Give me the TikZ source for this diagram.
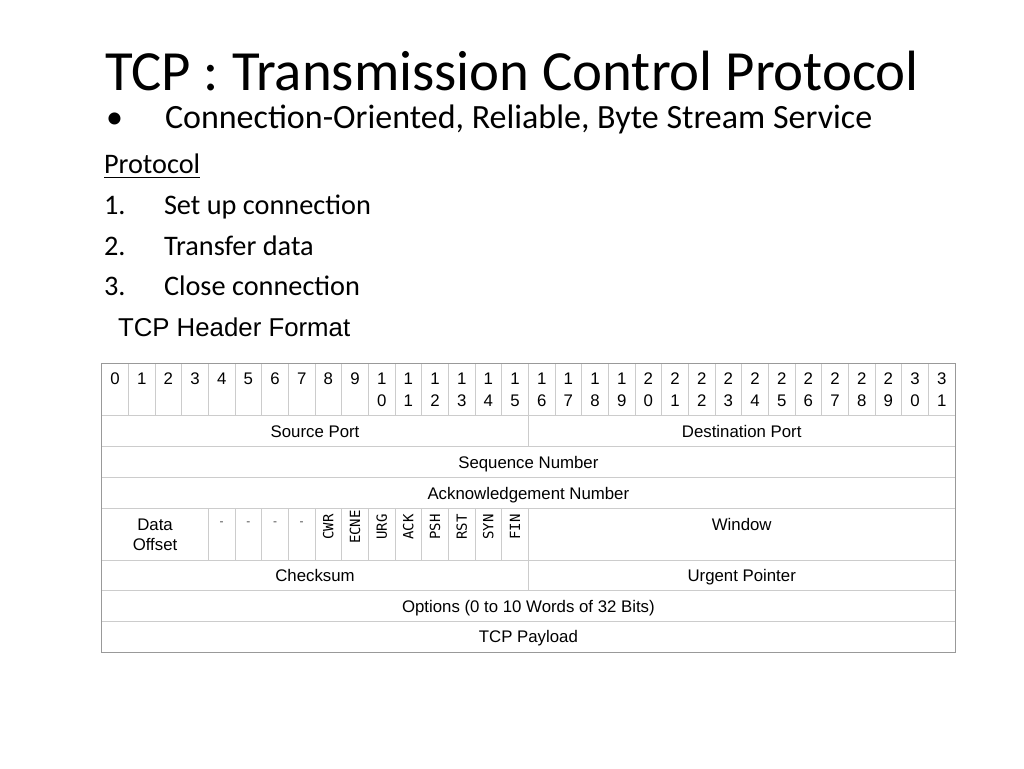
\documentclass[tikz,border=0pt]{standalone}
\usepackage{fontspec}
\setmainfont{Carlito}
\newfontfamily\arialf{Liberation Sans}
\newfontfamily\flagf{DejaVu Sans Mono}
\begin{document}
\begin{tikzpicture}[x=1pt,y=-1pt,
  txt/.style={anchor=base west,inner sep=0pt,outer sep=0pt},
  cell/.style={anchor=base,inner sep=0pt,font=\arialf\fontsize{16.8}{20}\selectfont},
  dashc/.style={anchor=base,inner sep=0pt,font=\arialf\fontsize{12}{14}\selectfont,text=black!70},
  flag/.style={rotate=90,inner sep=0pt,font=\flagf\fontsize{14}{16}\selectfont},
  gridl/.style={draw=black!20,line width=0.7pt},
  frame/.style={draw=black!40,line width=1pt}]
\useasboundingbox[fill=white] (0,0) rectangle (1024,768);
% slide text
\node[txt,font=\fontsize{56.8}{60}\selectfont] (title) at (105,90) {TCP : Transmission Control Protocol};
\node[txt,font=\fontsize{34}{36}\selectfont] (bul) at (106,128) {•};
\node[txt,font=\fontsize{34}{36}\selectfont] (svc) at (165,128) {Connection-Oriented, Reliable, Byte Stream Service};
\node[txt,font=\fontsize{28.3}{30}\selectfont] (proto) at (104,173.3) {Protocol};
\draw[line width=1.2pt] (proto.base west) ++(0,4) coordinate (ul1) -- (ul1 -| proto.base east);
\node[txt,font=\fontsize{28.3}{30}\selectfont] (n1) at (104,214.3) {1.};
\node[txt,font=\fontsize{28.3}{30}\selectfont] (i1) at (164,214.3) {Set up connection};
\node[txt,font=\fontsize{28.3}{30}\selectfont] (n2) at (104,255) {2.};
\node[txt,font=\fontsize{28.3}{30}\selectfont] (i2) at (164,255) {Transfer data};
\node[txt,font=\fontsize{28.3}{30}\selectfont] (n3) at (104,295.7) {3.};
\node[txt,font=\fontsize{28.3}{30}\selectfont] (i3) at (164,295.7) {Close connection};
\node[txt,font=\arialf\fontsize{25.8}{28}\selectfont] (hdr) at (118,336) {TCP Header Format};
% table grid
\def\X#1{101.7+26.667*#1}
\foreach \i in {1,...,31} \draw[gridl] ({\X{\i}},363) -- ({\X{\i}},415);
\foreach \y in {415,446,477,508,560,590,621} \draw[gridl] (101.7,\y) -- (955,\y);
\draw[gridl] ({\X{16}},415) -- ({\X{16}},446);
\draw[gridl] ({\X{16}},560) -- ({\X{16}},590);
\foreach \i in {4,...,16} \draw[gridl] ({\X{\i}},508) -- ({\X{\i}},560);
\draw[frame] (101.7,363) rectangle (955,652);
% header digits
\foreach \i in {0,...,31} {
  \pgfmathsetmacro\cx{101.7+26.667*(\i+0.5)}
  \ifnum\i<10
    \node[cell] (h\i) at (\cx,384.3) {\i};
  \else
    \pgfmathtruncatemacro\tn{div(\i,10)}
    \pgfmathtruncatemacro\un{mod(\i,10)}
    \node[cell] (h\i a) at (\cx,384.3) {\tn};
    \node[cell] (h\i b) at (\cx,406) {\un};
  \fi
}
% fields
\node[cell] (sport) at ({\X{8}},437.5) {Source Port};
\node[cell] (dport) at ({\X{24}},437.5) {Destination Port};
\node[cell] (seq) at ({\X{16}},468.5) {Sequence Number};
\node[cell] (ack) at ({\X{16}},499.5) {Acknowledgement Number};
\node[cell] (doff1) at ({\X{2}},530) {Data};
\node[cell] (doff2) at ({\X{2}},550) {Offset};
\foreach \i in {4,...,7} \node[dashc] (d\i) at ({\X{(\i+0.5)}},525) {-};
\foreach \f [count=\k from 8] in {CWR,ECNE,URG,ACK,PSH,RST,SYN,FIN}
  \node[flag] (f\k) at ({\X{(\k+0.5)}},527) {\f};
\node[cell] (win) at ({\X{24}},530) {Window};
\node[cell] (chk) at ({\X{8}},581.5) {Checksum};
\node[cell] (urg) at ({\X{24}},581.5) {Urgent Pointer};
\node[cell] (opt) at ({\X{16}},612) {Options (0 to 10 Words of 32 Bits)};
\node[cell] (pay) at ({\X{16}},642.7) {TCP Payload};
\end{tikzpicture}
\end{document}
